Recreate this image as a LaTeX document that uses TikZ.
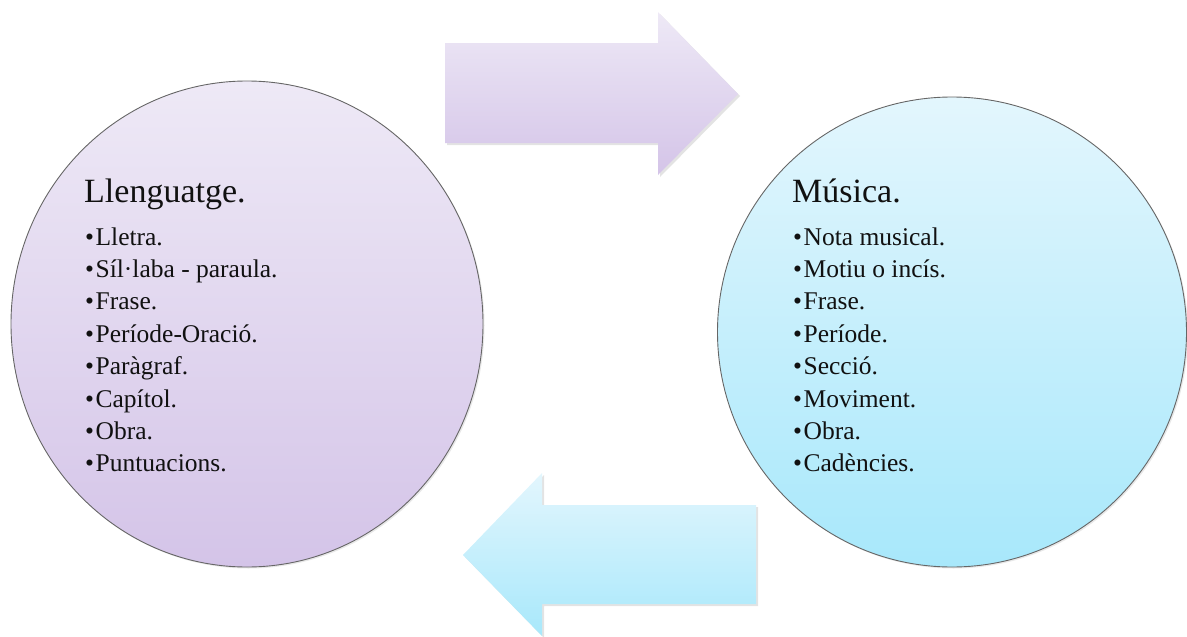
\documentclass[tikz,border=0pt]{standalone}
\usepackage{fontspec}
\setmainfont{Liberation Serif}
\usetikzlibrary{shapes.geometric,shadows}
\definecolor{lavTop}{HTML}{EEE9F6}
\definecolor{lavBot}{HTML}{D4C4E8}
\definecolor{skyTop}{HTML}{E3F6FD}
\definecolor{skyBot}{HTML}{A8E8FB}
\definecolor{ink}{HTML}{111111}
\begin{document}
\begin{tikzpicture}[x=1pt,y=-1pt,
  bubble/.style={ellipse, draw=black!60, line width=0.9pt, inner sep=0pt,
    drop shadow={opacity=0.18, shadow xshift=1.5pt, shadow yshift=-1.5pt}},
  lavender/.style={top color=lavTop, bottom color=lavBot},
  sky/.style={top color=skyTop, bottom color=skyBot},
  bigarrow/.style={draw=none,
    drop shadow={opacity=0.22, shadow xshift=2pt, shadow yshift=-2pt}},
  heading/.style={anchor=base west, inner sep=0pt, text=ink,
    font=\fontsize{34}{40}\selectfont},
  item/.style={anchor=base west, inner sep=0pt, text=ink,
    font=\fontsize{25.5}{30}\selectfont},
]
\useasboundingbox (0,0) rectangle (1187,637);

% the two circles
\node[bubble, lavender, minimum width=472pt, minimum height=486pt] (lang) at (247,324) {};
\node[bubble, sky, minimum width=469pt, minimum height=470pt] (music) at (952,332) {};

% arrow from language to music
\path[bigarrow, lavender] (445,43) -- (658,43) -- (658,12) -- (738,94)
  -- (658,175) -- (658,143) -- (445,143) -- cycle;
% arrow from music back to language
\path[bigarrow, sky] (756,505) -- (542,505) -- (542,473) -- (463,555)
  -- (542,636) -- (542,604) -- (756,604) -- cycle;

% language column
\node[heading] (langtitle) at (84,202) {Llenguatge.};
\foreach \t [count=\i] in {Lletra., Síl·laba - paraula., Frase., Període-Oració.,
    Paràgraf., Capítol., Obra., Puntuacions.}
  \node[item] (langitem\i) at (85,{245+(\i-1)*32.4}) {•\hspace{1.5pt}\t};

% music column
\node[heading] (musictitle) at (792,202) {Música.};
\foreach \t [count=\i] in {Nota musical., Motiu o incís., Frase., Període.,
    Secció., Moviment., Obra., Cadències.}
  \node[item] (musicitem\i) at (793,{245+(\i-1)*32.4}) {•\hspace{1.5pt}\t};
\end{tikzpicture}
\end{document}
